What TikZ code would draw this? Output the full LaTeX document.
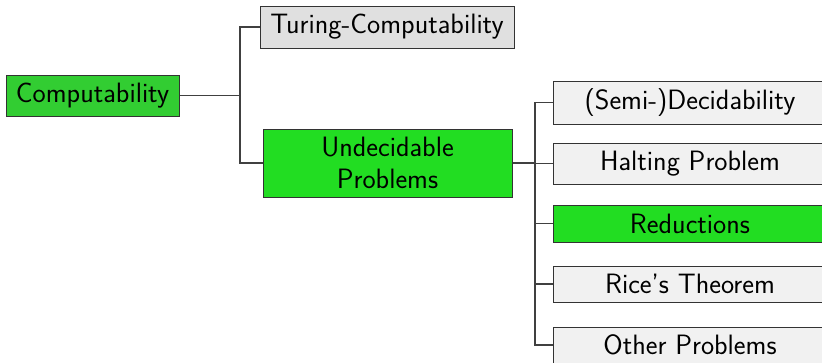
\documentclass[tikz,border=0pt]{standalone}
\usepackage{tikz}
\definecolor{greenA}{RGB}{50,205,50}
\definecolor{greenB}{RGB}{34,221,34}
\definecolor{grayA}{RGB}{224,224,224}
\definecolor{grayB}{RGB}{241,241,241}
\begin{document}
\begin{tikzpicture}[x=0.75pt,y=-0.75pt,
  box/.style={draw=black!80, line width=0.75pt, inner sep=0pt, font=\sffamily\fontsize{21}{23.5}\selectfont, align=center, anchor=center},
  conn/.style={draw=black!75, line width=0.8pt}]
\clip (0,0) rectangle (822,362);
\fill[white] (0,0) rectangle (822,362);
\node[box, fill=greenA, minimum width=129.75pt, minimum height=30.75pt] (comp) at (92.5,95.5) {Computability};
\node[box, fill=grayA, minimum width=190.5pt, minimum height=31.5pt] (tur) at (387,27) {Turing-Computability};
\node[box, fill=greenB, minimum width=186.75pt, minimum height=51pt] (und) at (387.5,163) {Undecidable\\Problems};
\node[box, fill=grayB, minimum width=205.5pt, minimum height=32.25pt] (semi) at (690,102.5) {(Semi-)Decidability};
\node[box, fill=grayB, minimum width=205.5pt, minimum height=30.75pt] (halt) at (690,163.5) {Halting Problem};
\node[box, fill=greenB, minimum width=205.5pt, minimum height=27.75pt] (red) at (690,223.5) {Reductions};
\node[box, fill=grayB, minimum width=205.5pt, minimum height=27pt] (rice) at (690,284) {Rice's Theorem};
\node[box, fill=grayB, minimum width=205.5pt, minimum height=27pt] (other) at (690,345) {Other Problems};
\coordinate (j1) at (240,95.5);
\coordinate (j2) at (535,163);
\draw[conn] (comp.east) -- (j1);
\draw[conn] (j1) |- (tur.west);
\draw[conn] (j1) |- (und.west);
\draw[conn] (und.east) -- (j2);
\draw[conn] (j2) |- (semi.west);
\draw[conn] (j2) |- (halt.west);
\draw[conn] (j2) |- (red.west);
\draw[conn] (j2) |- (rice.west);
\draw[conn] (j2) |- (other.west);
\end{tikzpicture}
\end{document}
